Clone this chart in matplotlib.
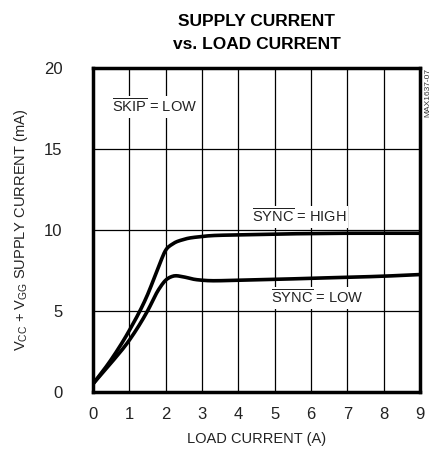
import matplotlib
matplotlib.use("Agg")
import matplotlib.pyplot as plt
from matplotlib import font_manager
import numpy as np

names = set(f.name for f in font_manager.fontManager.ttflist)
narrow = "Liberation Sans Narrow" if "Liberation Sans Narrow" in names else "Liberation Sans"
plt.rcParams['font.family'] = [narrow, 'DejaVu Sans']
plt.rcParams['mathtext.fontset'] = 'custom'
plt.rcParams['mathtext.rm'] = narrow
plt.rcParams['mathtext.it'] = narrow
plt.rcParams['mathtext.bf'] = narrow

# data
load_high = [0, 0.5, 1, 1.5, 1.8, 2.0, 2.2, 2.5, 3, 4, 5, 6, 7, 8, 9]
sync_high = [0.5, 2.0, 3.8, 6.0, 7.7, 8.75, 9.15, 9.42, 9.6, 9.7, 9.75, 9.78, 9.8, 9.8, 9.8]
load_low = [0, 0.5, 1, 1.5, 1.8, 2.0, 2.2, 2.5, 2.8, 3, 4, 5, 6, 7, 8, 9]
sync_low = [0.5, 1.8, 3.2, 5.0, 6.3, 6.9, 7.15, 7.1, 6.95, 6.9, 6.9, 6.95, 7.02, 7.08, 7.15, 7.25]


def smooth(x, y, n=300):
    # cubic hermite through the read points
    x = np.asarray(x, float)
    y = np.asarray(y, float)
    xs = np.linspace(x[0], x[-1], n)
    m = np.gradient(y, x)
    ys = np.empty_like(xs)
    for k, xv in enumerate(xs):
        i = min(np.searchsorted(x, xv, side='right') - 1, len(x) - 2)
        h = x[i + 1] - x[i]
        t = (xv - x[i]) / h
        h00 = 2*t**3 - 3*t**2 + 1
        h10 = t**3 - 2*t**2 + t
        h01 = -2*t**3 + 3*t**2
        h11 = t**3 - t**2
        ys[k] = h00*y[i] + h10*h*m[i] + h01*y[i+1] + h11*h*m[i+1]
    return xs, ys


fig = plt.figure(figsize=(4.38, 4.53), dpi=100)
ax = fig.add_axes([93/438, 1 - 392/453, 327/438, 324/453])

xh, yh = smooth(load_high, sync_high)
xl, yl = smooth(load_low, sync_low)
ax.plot(xh, yh, color='black', lw=2.6, solid_capstyle='butt', zorder=3)
ax.plot(xl, yl, color='black', lw=2.6, solid_capstyle='butt', zorder=3)

ax.set_xlim(0, 9)
ax.set_ylim(0, 20)
ax.set_xticks(range(0, 10))
ax.set_yticks([0, 5, 10, 15, 20])
ax.grid(True, color='black', lw=0.9)
ax.tick_params(length=0, labelsize=12, labelcolor='#222222')
ax.tick_params(axis='x', pad=11)
ax.tick_params(axis='y', pad=22)
for s in ax.spines.values():
    s.set_linewidth(2.5)
    s.set_zorder(5)

ax.set_xlabel('LOAD CURRENT (A)', fontsize=10.5, labelpad=7, color='#222222')
ax.set_ylabel(r'V$_{\mathrm{CC}}$ + V$_{\mathrm{GG}}$ SUPPLY CURRENT (mA)', fontsize=10.5,
              labelpad=10, color='#222222')
fig.text(257/438, 1 - 33/453, 'SUPPLY CURRENT\nvs. LOAD CURRENT', ha='center', va='center',
         fontsize=12.5, fontweight='bold', linespacing=1.65)

box = dict(facecolor='white', edgecolor='none', pad=1.5)
ax.text(0.52, 17.6, r'$\overline{\mathrm{SKIP}}$ = LOW', fontsize=10.5, va='center', bbox=box,
        zorder=4, color='#222222')
ax.text(4.37, 10.8, r'$\overline{\mathrm{SYNC}}$ = HIGH', fontsize=10.5, va='center', bbox=box,
        zorder=4, color='#222222')
ax.text(4.9, 5.8, r'$\overline{\mathrm{SYNC}}$ = LOW', fontsize=10.5, va='center', bbox=box,
        zorder=4, color='#222222')

fig.text(428/438, 1 - 68/453, 'MAX1637-07', rotation=90, ha='center', va='top', fontsize=6,
         color='#333333')

fig.savefig('out.png', dpi=100)
